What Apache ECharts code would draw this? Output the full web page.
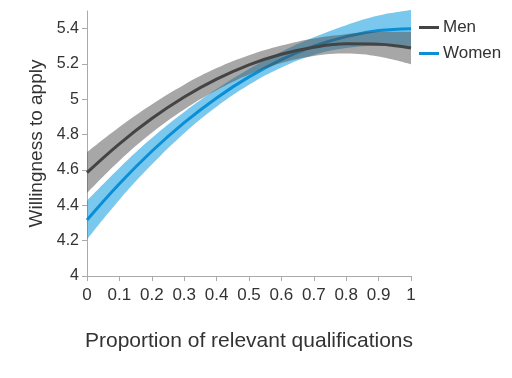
<!DOCTYPE html>
<html>
<head>
<meta charset="utf-8">
<script src="https://cdn.jsdelivr.net/npm/echarts@6/dist/echarts.min.js"></script>
<style>html,body{margin:0;padding:0;background:#fff}#c{width:512px;height:378px}</style>
</head>
<body>
<div id="c"></div>
<script>
var categories = ['0','0.1','0.2','0.3','0.4','0.5','0.6','0.7','0.8','0.9','1'];
var yTicks = [4, 4.2, 4.4, 4.6, 4.8, 5, 5.2, 5.4];
var menLine  = [4.585, 4.748, 4.891, 5.013, 5.114, 5.195, 5.255, 5.295, 5.314, 5.312, 5.290];
var menLower = [4.470, 4.653, 4.811, 4.943, 5.051, 5.140, 5.205, 5.245, 5.259, 5.242, 5.198];
var menUpper = [4.700, 4.843, 4.971, 5.083, 5.177, 5.250, 5.305, 5.345, 5.369, 5.382, 5.382];
var womenLine  = [4.317, 4.522, 4.706, 4.868, 5.008, 5.127, 5.225, 5.301, 5.355, 5.389, 5.400];
var womenLower = [4.207, 4.432, 4.631, 4.808, 4.958, 5.082, 5.180, 5.251, 5.290, 5.304, 5.295];
var womenUpper = [4.427, 4.612, 4.781, 4.928, 5.058, 5.172, 5.270, 5.351, 5.420, 5.474, 5.505];

function diff(a, b) { return a.map(function (v, i) { return +(v - b[i]).toFixed(3); }); }

var font = 'Liberation Sans, Arial, sans-serif';
var chart = echarts.init(document.getElementById('c'), null, {renderer: 'canvas'});
chart.setOption({
  animation: false,
  textStyle: {fontFamily: font},
  grid: {left: 87, right: 101, top: 11, bottom: 102, containLabel: false},
  legend: {
    orient: 'vertical', left: 414, top: 14, itemGap: 9,
    itemWidth: 20, itemHeight: 3, icon: 'rect',
    textStyle: {fontSize: 17, color: '#333', fontFamily: font, padding: [0, 0, 0, -1]},
    data: ['Men', 'Women']
  },
  xAxis: {
    type: 'category', data: categories, boundaryGap: false,
    name: 'Proportion of relevant qualifications', nameLocation: 'middle', nameGap: 55,
    nameTextStyle: {fontSize: 21, color: '#333', fontFamily: font},
    axisLine: {lineStyle: {color: '#aaa', width: 1}},
    axisTick: {show: true, length: 5, lineStyle: {color: '#aaa'}, interval: 0},
    axisLabel: {fontSize: 17, color: '#333', margin: 11, interval: 0, fontFamily: font},
    splitLine: {show: false}
  },
  yAxis: {
    type: 'value', min: 4, max: 5.5,
    name: 'Willingness to apply', nameLocation: 'middle', nameGap: 40,
    nameTextStyle: {fontSize: 19, color: '#333', fontFamily: font},
    axisLine: {show: true, lineStyle: {color: '#aaa', width: 1}},
    axisTick: {show: true, length: 5, lineStyle: {color: '#aaa'}, customValues: yTicks},
    axisLabel: {fontSize: 16, color: '#333', margin: 8, customValues: yTicks, fontFamily: font},
    splitLine: {show: false}
  },
  series: [
    {name: 'wl', type: 'line', stack: 'w', data: womenLower, smooth: 0.4, symbol: 'none',
     lineStyle: {opacity: 0}, silent: true, z: 1},
    {name: 'wb', type: 'line', stack: 'w', data: diff(womenUpper, womenLower), smooth: 0.4, symbol: 'none',
     lineStyle: {opacity: 0}, areaStyle: {color: 'rgba(0,150,220,0.52)', opacity: 1}, silent: true, z: 1},
    {name: 'Women', type: 'line', data: womenLine, smooth: 0.4, symbol: 'none',
     lineStyle: {color: '#0a8fd6', width: 3}, itemStyle: {color: '#0a8fd6'}, z: 2},
    {name: 'ml', type: 'line', stack: 'm', data: menLower, smooth: 0.4, symbol: 'none',
     lineStyle: {opacity: 0}, silent: true, z: 3},
    {name: 'mb', type: 'line', stack: 'm', data: diff(menUpper, menLower), smooth: 0.4, symbol: 'none',
     lineStyle: {opacity: 0}, areaStyle: {color: 'rgba(80,80,80,0.5)', opacity: 1}, silent: true, z: 3},
    {name: 'Men', type: 'line', data: menLine, smooth: 0.4, symbol: 'none',
     lineStyle: {color: '#444', width: 3}, itemStyle: {color: '#444'}, z: 4}
  ]
});
</script>
</body>
</html>
